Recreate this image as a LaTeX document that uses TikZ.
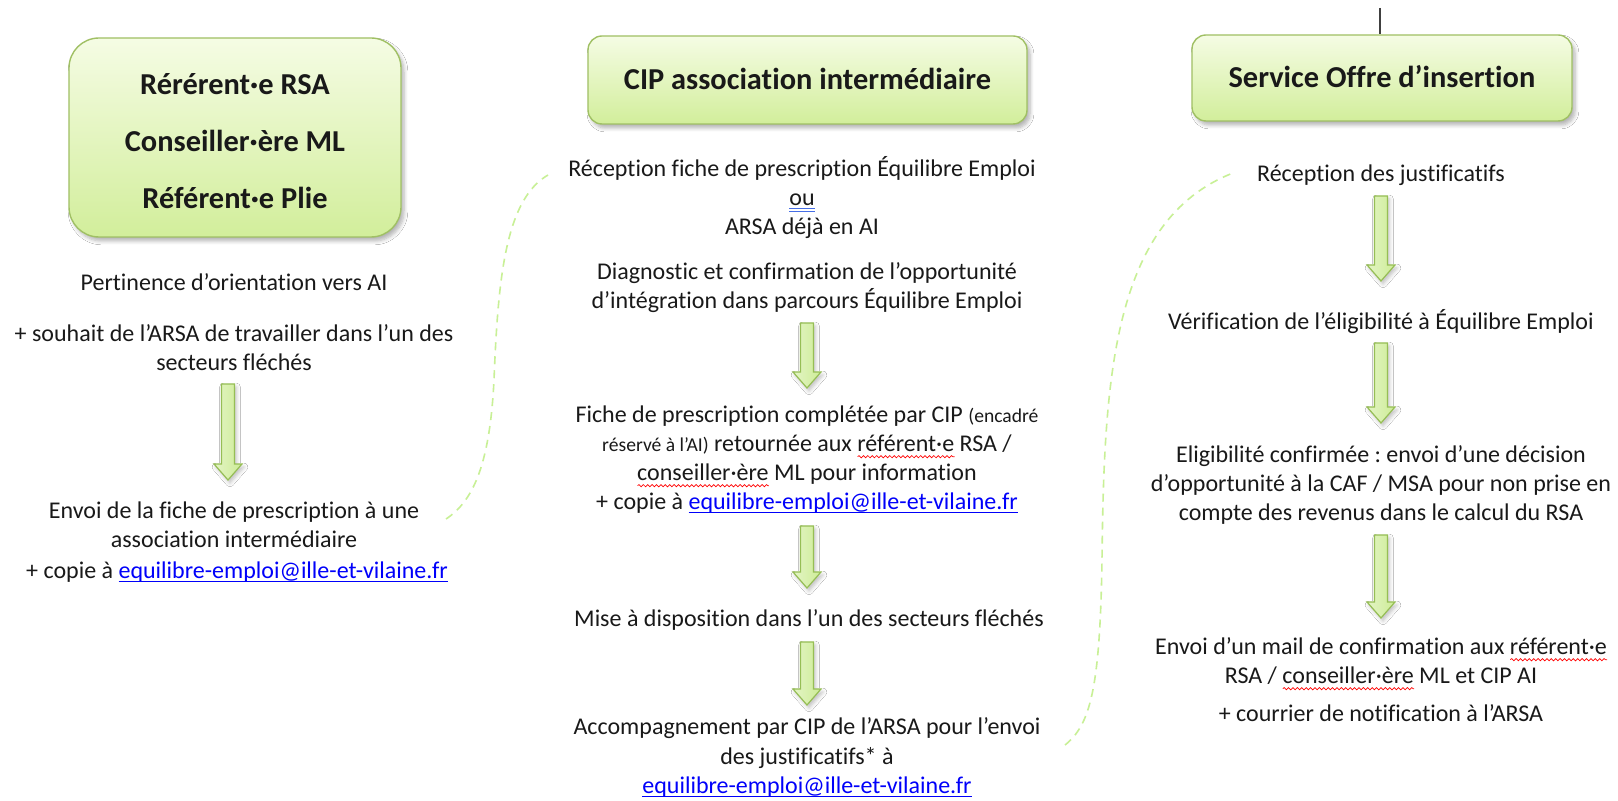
\documentclass[tikz,border=0pt]{standalone}
\usepackage{fontspec}
\setmainfont{Carlito}[Ligatures={NoCommon}]
\usetikzlibrary{shadows.blur,decorations.pathmorphing}
\frenchspacing
\definecolor{bxtop}{RGB}{245,252,228}
\definecolor{bxbot}{RGB}{210,238,155}
\definecolor{bxline}{RGB}{160,192,100}
\definecolor{arfill}{RGB}{205,236,150}
\definecolor{arline}{RGB}{150,190,85}
\definecolor{dashg}{RGB}{200,240,150}
\definecolor{lnk}{RGB}{0,0,250}
\definecolor{dulc}{RGB}{70,110,230}
\definecolor{txt}{RGB}{25,25,25}
\newsavebox\wvbox
\newlength\wvlen
\newcommand\lnk[1]{{\color{lnk}\sbox\wvbox{#1}\rlap{\rule[-1.9pt]{\wd\wvbox}{0.55pt}}\usebox\wvbox}}
\newcommand\wav[1]{\sbox\wvbox{#1}\setlength\wvlen{\wd\wvbox}%
  \rlap{\tikz[baseline=0pt,x=1pt,y=1pt]\draw[red, line width=0.35pt, decorate,
     decoration={snake, amplitude=0.55pt, segment length=2.2pt}] (0,-2.6) -- (\wvlen,-2.6);}%
  \usebox\wvbox}
\newcommand\dul[1]{\sbox\wvbox{#1}{\color{dulc}\rlap{\rule[-1.7pt]{\wd\wvbox}{0.45pt}}\rlap{\rule[-3pt]{\wd\wvbox}{0.45pt}}}\usebox\wvbox}
\newcommand\smallp[1]{{\fontsize{9.8}{14.5}\selectfont #1}}
\newcommand\garrow[3]{%
  \draw[arline, line width=0.6pt, left color=arfill!55!white, right color=arfill,
        blur shadow={shadow xshift=1pt, shadow yshift=-1.5pt, shadow opacity=25, shadow blur steps=4}]
  (#1-6.5,#2) -- (#1+6.5,#2) -- (#1+6.5,#3-16) -- (#1+14,#3-16) -- (#1,#3)
  -- (#1-14,#3-16) -- (#1-6.5,#3-16) -- cycle;}
\tikzset{
  hdr/.style={draw=bxline, line width=0.7pt, top color=bxtop, bottom color=bxbot,
    inner sep=0pt,
    blur shadow={shadow xshift=1.5pt, shadow yshift=-2pt, shadow opacity=30, shadow blur steps=6}},
  hdrtxt/.style={text=txt, font=\bfseries\fontsize{15.2}{28.5}\selectfont, align=center, inner sep=0pt},
  txt/.style={text=txt, font=\fontsize{12}{14.5}\selectfont, align=center, inner sep=0pt, anchor=base},
  dashc/.style={dashg, line width=0.8pt, dash pattern=on 4pt off 3pt}
}
\begin{document}
\begin{tikzpicture}[x=0.5pt,y=-0.5pt]
\useasboundingbox (0,0) rectangle (1618,801);
\fill[white] (0,0) rectangle (1618,801);

% headers
\node[hdr, minimum width=166pt, minimum height=99.5pt, rounded corners=15pt] (h1) at (235,137.5) {};
\node[hdrtxt] (h1t) at (235,141.5) {Rérérent·e RSA\\Conseiller·ère ML\\Référent·e Plie};
\node[hdr, minimum width=219.5pt, minimum height=44pt, rounded corners=7pt] (h2) at (807.5,80) {};
\node[hdrtxt] (h2t) at (807.5,79) {CIP association intermédiaire};
\node[hdr, minimum width=190pt, minimum height=43pt, rounded corners=7pt] (h3) at (1382,78) {};
\node[hdrtxt] (h3t) at (1382,77) {Service Offre d’insertion};
\coordinate (tl) at (1380,8);
\draw[line width=0.8pt, black!75] (tl) -- (h3.north -| tl);

% left column (anchor = baseline of last line)
\node[txt] (l1) at (234,290.5) {Pertinence d’orientation vers AI};
\node[txt] (l2) at (234,370.5) {+ souhait de l’ARSA de travailler dans l’un des\\secteurs fléchés};
\node[txt] (l3) at (234,547.5) {Envoi de la fiche de prescription à une\\association intermédiaire};
\node[txt] (l4) at (237,578.5) {+ copie à \lnk{equilibre-emploi@ille-et-vilaine.fr}};
\garrow{228}{384}{480}

% middle column
\node[txt] (m1) at (802,235) {Réception fiche de prescription Équilibre Emploi\\\dul{ou}\\ARSA déjà en AI};
\node[txt] (m2) at (807,308.5) {Diagnostic et confirmation de l’opportunité\\d’intégration dans parcours Équilibre Emploi};
\node[txt] (m3) at (807,509.5) {Fiche de prescription complétée par CIP \smallp{(encadré}\\
  \smallp{réservé à l’AI)} retournée aux \wav{référent·e} RSA /\\
  \wav{conseiller·ère} ML pour information\\
  + copie à \lnk{equilibre-emploi@ille-et-vilaine.fr}};
\node[txt] (m4) at (809,626.5) {Mise à disposition dans l’un des secteurs fléchés};
\node[txt] (m5) at (807,793) {Accompagnement par CIP de l’ARSA pour l’envoi\\des justificatifs* à\\\lnk{equilibre-emploi@ille-et-vilaine.fr}};
\garrow{807}{323}{388}
\garrow{807}{526}{588}
\garrow{807}{642}{705}

% right column
\node[txt] (r1) at (1381,181.5) {Réception des justificatifs};
\node[txt] (r2) at (1381,329.5) {Vérification de l’éligibilité à Équilibre Emploi};
\node[txt] (r3) at (1381,520.5) {Eligibilité confirmée : envoi d’une décision\\d’opportunité à la CAF / MSA pour non prise en\\compte des revenus dans le calcul du RSA};
\node[txt] (r4) at (1381,683.5) {Envoi d’un mail de confirmation aux \wav{référent·e}\\RSA / \wav{conseiller·ère} ML et CIP AI};
\node[txt] (r5) at (1381,721.5) {+ courrier de notification à l’ARSA};
\garrow{1381}{196}{281}
\garrow{1381}{343}{423}
\garrow{1381}{535}{618}

% dashed links
\coordinate (d1a) at (446,519);
\coordinate (d1b) at (548,175);
\draw[dashc] (d1a) .. controls (475,500) and (490,460) .. (494,380)
  .. controls (498,280) and (505,200) .. (d1b);
\coordinate (d2a) at (1065,745);
\coordinate (d2b) at (1233,173);
\draw[dashc] (d2a) .. controls (1090,725) and (1100,690) .. (1102,560)
  .. controls (1104,380) and (1112,220) .. (d2b);
\end{tikzpicture}
\end{document}
